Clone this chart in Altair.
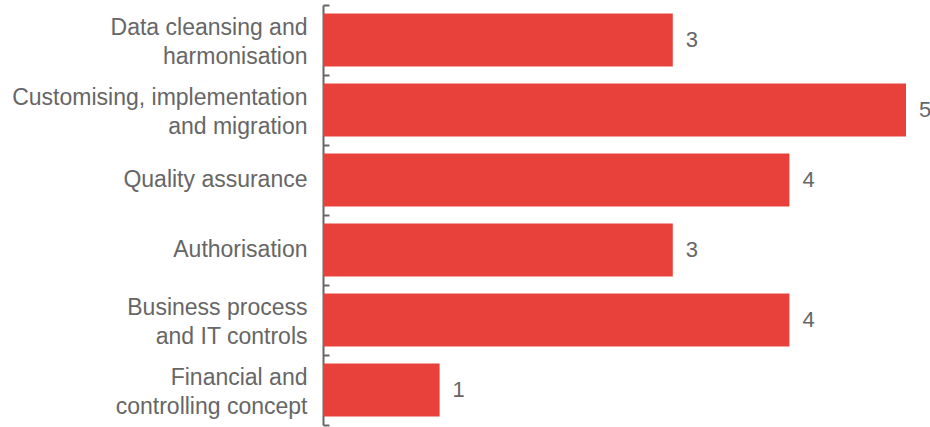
import altair as alt
import pandas as pd

categories = [
    "Data cleansing and|harmonisation",
    "Customising, implementation|and migration",
    "Quality assurance",
    "Authorisation",
    "Business process|and IT controls",
    "Financial and|controlling concept",
]
values = [3, 5, 4, 3, 4, 1]

df = pd.DataFrame({"cat": categories, "value": values})

W, H = 583, 420
FONT = "Liberation Sans"
GREY = "#666666"
RED = "#E8403A"

x_scale = alt.Scale(domain=[0, 5], nice=False, zero=True)

bars = alt.Chart(df).mark_bar(color=RED).encode(
    x=alt.X("value:Q", scale=x_scale, axis=None),
    y=alt.Y(
        "cat:N",
        scale=alt.Scale(domain=categories, paddingInner=0.24, paddingOuter=0.12),
        sort=categories,
        axis=alt.Axis(
            title=None,
            domain=False,
            ticks=False,
            labelExpr="split(datum.label, '|')",
            labelFont=FONT,
            labelFontSize=23,
            labelColor=GREY,
            labelPadding=16,
            labelLineHeight=29,
            labelLimit=400,
            labelOffset={
                "condition": {"test": "indexof(datum.label, '|') >= 0", "value": -12},
                "value": 0,
            },
        ),
    ),
)

text = alt.Chart(df).mark_text(
    align="left", baseline="middle", dx=13, font=FONT, fontSize=22, color=GREY
).encode(
    x=alt.X("value:Q", scale=x_scale, axis=None),
    y=alt.Y(
        "cat:N",
        scale=alt.Scale(domain=categories, paddingInner=0, paddingOuter=0),
        sort=categories,
        axis=alt.Axis(
            orient="right",
            offset=-W,
            title=None,
            labels=False,
            domain=True,
            domainColor=GREY,
            domainWidth=2,
            ticks=True,
            tickColor=GREY,
            tickWidth=2,
            tickSize=6,
            tickBand="extent",
        ),
    ),
    text="value:Q",
)

chart = (
    alt.layer(bars, text)
    .resolve_scale(y="independent")
    .resolve_axis(y="independent")
    .properties(
        width=W,
        height=H,
        autosize=alt.AutoSizeParams(type="none"),
        padding={"left": 323, "top": 5, "right": 24, "bottom": 2},
    )
    .configure_view(stroke=None)
)

chart.save("out.html", embed_options={"renderer": "svg", "actions": False})
